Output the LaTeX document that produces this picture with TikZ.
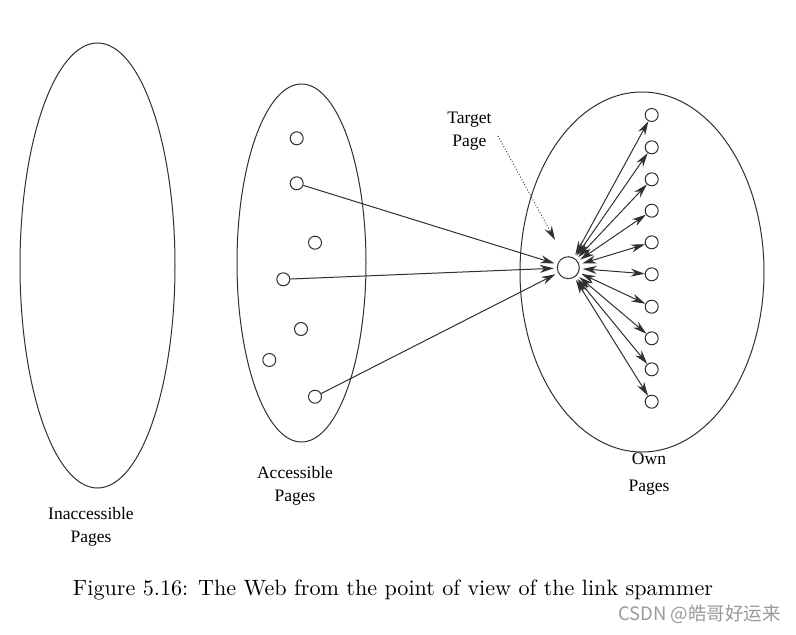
\documentclass[tikz,border=0pt]{standalone}
\usepackage{fontspec}
\usepackage{graphicx}
\usetikzlibrary{arrows.meta}
\newfontfamily\labelfont{Liberation Serif}
\newfontfamily\cjk{Noto Sans CJK SC}
\definecolor{linegray}{HTML}{303030}
\definecolor{wmgray}{HTML}{9A9A9A}
\begin{document}
\begin{tikzpicture}[x=1pt,y=-1pt,
  tip/.tip={Stealth[length=14pt,width=8pt,inset=4.5pt]},
  page/.style={circle,draw=linegray,line width=1pt,fill=white,minimum size=13pt,inner sep=0pt},
  target/.style={circle,draw=linegray,line width=1pt,fill=white,minimum size=22pt,inner sep=0pt},
  region/.style={draw=linegray,line width=1pt},
  lbl/.style={font=\labelfont\fontsize{17.5}{21}\selectfont,text=black,align=center,inner sep=0pt},
  link/.style={draw=linegray,line width=1pt,-tip,shorten >=3pt},
  bilink/.style={draw=linegray,line width=1pt,tip-tip,shorten <=3pt},
  hint/.style={draw=linegray,line width=0.9pt,dotted,-tip}
]
\useasboundingbox (0,0) rectangle (796,635);
\fill[white] (0,0) rectangle (796,635);

% regions
\draw[region] (97.5,265.5) ellipse [x radius=77.5pt,y radius=222.5pt];
\draw[region] (301.5,263) ellipse [x radius=64.5pt,y radius=179pt];
\draw[region] (642,272) ellipse [x radius=122pt,y radius=180pt];

% accessible pages
\node[page] (a1) at (296.7,138.3) {};
\node[page] (a2) at (296.7,183.3) {};
\node[page] (a3) at (315,242.7) {};
\node[page] (a4) at (283.3,279.3) {};
\node[page] (a5) at (301,329) {};
\node[page] (a6) at (269.3,360) {};
\node[page] (a7) at (315,396.7) {};

% target
\node[target] (t) at (568.3,267.7) {};

% own pages
\foreach \i/\y in {1/115,2/147.3,3/179.3,4/210.7,5/242.3,6/274.3,7/306.7,8/338.3,9/369.3,10/401.7}
  \node[page] (o\i) at (651.7,\y) {};

% links from accessible pages
\draw[link] (a2) -- (t);
\draw[link] (a4) -- (t);
\draw[link] (a7) -- (t);

% links between target and own pages
\foreach \i in {1,...,10}
  \draw[bilink] (t) -- (o\i);

% labels
\node[lbl] (tl) at (469.5,131.5) {Target\\[2pt]Page};
\coordinate (th) at (498,136);
\coordinate (tt) at (555,240);
\draw[hint] (th) -- (tt);

\node[lbl] (il) at (91,526.5) {Inaccessible\\[2pt]Pages};
\node[lbl] (al) at (295,485.5) {Accessible\\[2pt]Pages};
\node[lbl] (ol) at (649,474.5) {Own\\[6pt]Pages};

% caption
\node[inner sep=0pt] (cap) at (393,590) {\resizebox{640pt}{!}{Figure 5.16: The Web from the point of view of the link spammer}};

% watermark
\node[anchor=east,inner sep=0pt,text=wmgray,font=\cjk\fontsize{18.5}{22}\selectfont] (wm) at (781,614) {CSDN @皓哥好运来};
\end{tikzpicture}
\end{document}
